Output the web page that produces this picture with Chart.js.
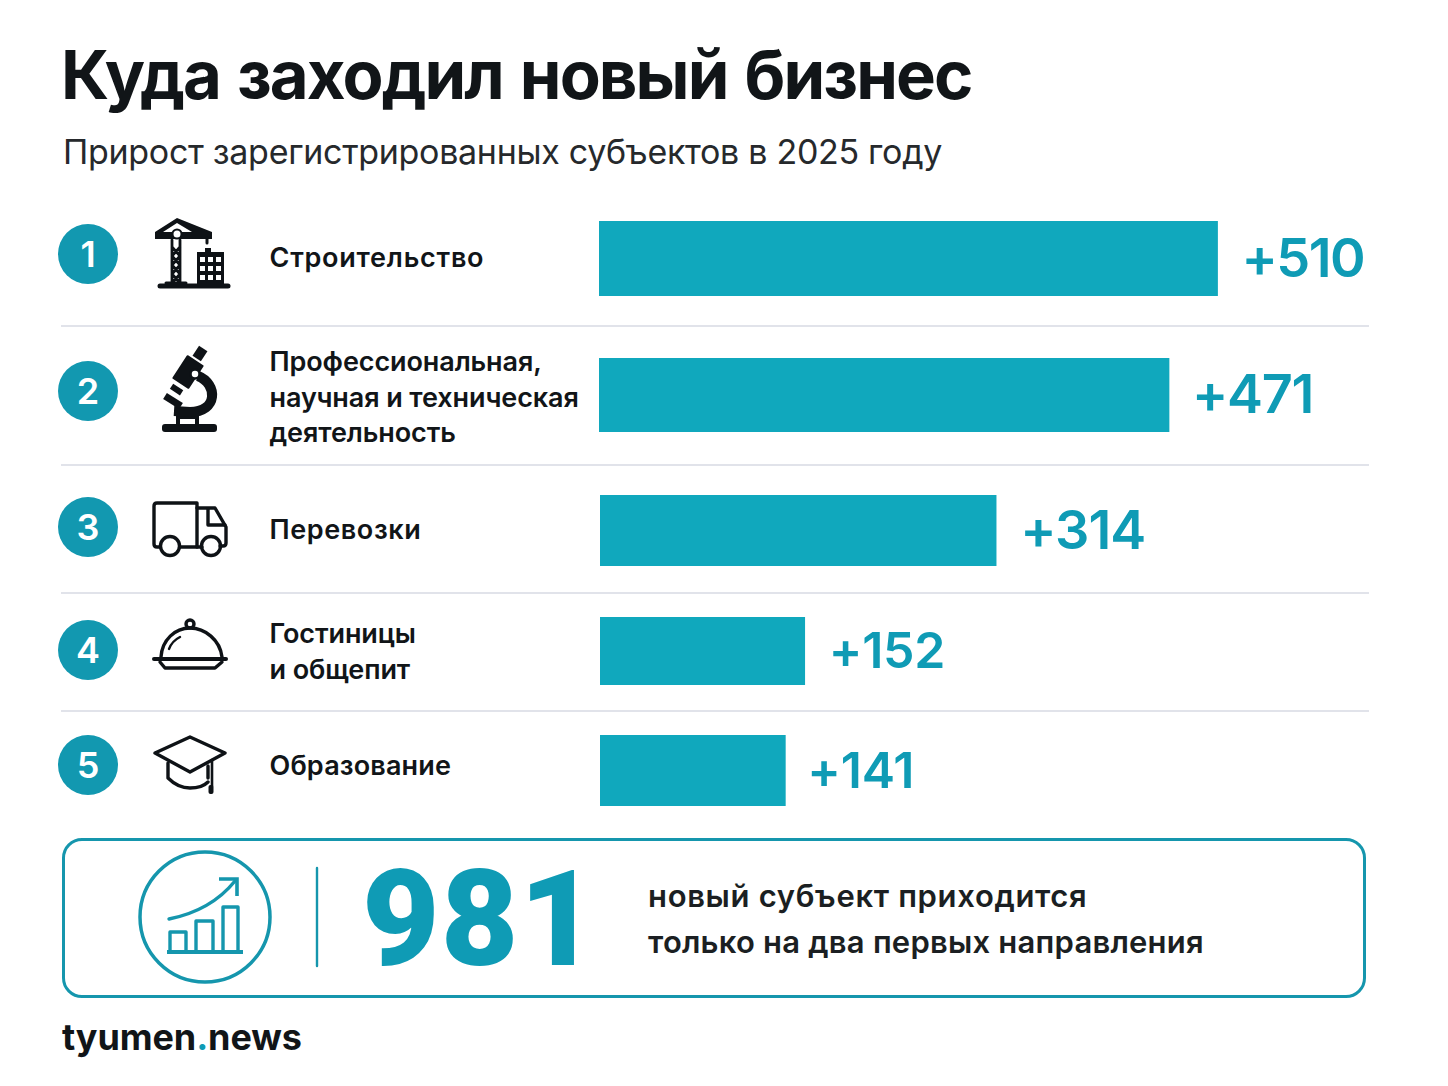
<!DOCTYPE html>
<html lang="ru">
<head>
<meta charset="utf-8">
<title>Куда заходил новый бизнес</title>
<script src="https://cdn.jsdelivr.net/npm/chart.js@4/dist/chart.umd.min.js"></script>
<style>
  html, body { margin: 0; padding: 0; background: #fff; }
  #page { position: relative; width: 1448px; height: 1086px; overflow: hidden; font-family: Inter, sans-serif; color: #111518; }
  #page > * { position: absolute; }
  #art { left: 0; top: 0; }
  h1 { left: 61px; top: 33px; margin: 0; font-size: 67px; line-height: 84px; font-weight: 700; letter-spacing: -1.9px; word-spacing: 3px; white-space: nowrap; }
  .sub { left: 63px; top: 130px; font-size: 34px; line-height: 44px; font-weight: 400; letter-spacing: -0.3px; color: #26292c; white-space: nowrap; }
  .num { left: 58px; width: 60px; height: 60px; line-height: 60px; border-radius: 50%; background: #1298b0; color: #fff; text-align: center; font-size: 36px; font-weight: 600; }
  .cat { left: 269.5px; font-size: 27px; line-height: 35.5px; font-weight: 600; white-space: nowrap; }
  .rule { left: 61px; width: 1308px; height: 2px; background: #e1e3ea; }
  .box { left: 62px; top: 838px; width: 1298px; height: 154px; border: 3px solid #1596ad; border-radius: 20px; }
  .big { left: 362px; top: 841px; font-family: Roboto, sans-serif; font-weight: 900; font-size: 134px; line-height: 158px; letter-spacing: 1px; color: #0f9bb5; }
  .note { left: 648px; top: 873px; font-size: 31px; line-height: 46px; font-weight: 600; color: #1b1f22; white-space: nowrap; }
  .foot { left: 62px; top: 1014px; font-size: 36px; line-height: 46px; font-weight: 700; letter-spacing: -0.1px; white-space: nowrap; }
  .foot span { color: #0f9bb5; }
  canvas { display: block; }
</style>
</head>
<body>
<div id="page">
  <svg id="art" width="1448" height="1086" viewBox="0 0 1448 1086" fill="none" stroke="#0e1216" stroke-width="3.4" stroke-linejoin="round" stroke-linecap="round">
    <!-- crane and building -->
    <g>
      <path d="M177 218 L155 232 V239 H212 V232 Z M177 223 L163 232 H192 Z" fill="#0e1216" fill-rule="evenodd" stroke="none"/>
      <circle cx="177" cy="234" r="4.5" fill="#fff" stroke="#0e1216" stroke-width="2"/>
      <path d="M207 238 V243" stroke-width="3"/>
      <path d="M172 240 V283 M180 240 V283 M172 247 L180 256 L172 265 L180 274 L172 283 M180 247 L172 256 L180 265 L172 274 L180 283" stroke-width="2.8"/>
      <path d="M160 286 H228" stroke-width="5"/>
      <path d="M166 283 H186" stroke-width="3"/>
      <path d="M197 252 H205 V248 H211 V252 H224 V285 H197 Z M200 257 H205 V262 H200 Z M208 257 H213 V262 H208 Z M216 257 H221 V262 H216 Z M200 266 H205 V271 H200 Z M208 266 H213 V271 H208 Z M216 266 H221 V271 H216 Z M200 275 H205 V280 H200 Z M208 275 H213 V280 H208 Z M216 275 H221 V280 H216 Z" fill="#0e1216" fill-rule="evenodd" stroke="none"/>
    </g>
    <!-- microscope -->
    <g>
      <rect x="162" y="424" width="55" height="8" rx="3" fill="#0e1216" stroke="none"/>
      <path d="M178 424 V412 H197 V424 M181 417 H194" stroke-width="4"/>
      <path d="M198 376 C218 384 218 412 190 412 L174 411" stroke-width="10" stroke-linecap="butt"/>
      <g transform="rotate(33 188 372)" fill="#0e1216" stroke="none">
        <rect x="178" y="358" width="20" height="28" rx="1"/>
        <rect x="183" y="344" width="10" height="12"/>
        <rect x="182" y="390" width="12" height="6"/>
      </g>
      <circle cx="195" cy="374" r="4.5" fill="#fff" stroke="#0e1216" stroke-width="2.5"/>
      <path d="M165 396 L181 406" stroke-width="7" stroke-linecap="butt"/>
    </g>
    <!-- truck -->
    <g>
      <path d="M160 547 H157 Q154 547 154 544 V506 Q154 503 157 503 H197 V547 H180"/>
      <path d="M197 508 H215 L226 527 V543 Q226 546 223 546 H220 M197 547 H202"/>
      <path d="M208 509 V525 H225"/>
      <circle cx="170" cy="546" r="9.5"/>
      <circle cx="211" cy="546" r="9.5"/>
    </g>
    <!-- cloche -->
    <g>
      <circle cx="190" cy="624" r="4" />
      <path d="M161 657 C162 640 175 628 190 628 C205 628 220 640 222 657"/>
      <path d="M154 659 H226" stroke-width="4"/>
      <path d="M160 662 L165 668 H215 L222 662"/>
      <path d="M169 649 Q172 641 180 637" stroke-width="2.4"/>
    </g>
    <!-- graduation cap -->
    <g>
      <path d="M190 737 L225 753 L190 772 L155 753 Z"/>
      <path d="M168 763 V778 Q178 788 190 788 Q202 788 208 782 M208 766 V778"/>
      <path d="M212 760 V786" stroke-width="2.6"/>
      <rect x="208.5" y="785" width="5" height="9" rx="2" fill="#0e1216" stroke="none"/>
    </g>
    <!-- growth icon in the summary box -->
    <g stroke="#1596ad">
      <circle cx="205" cy="917" r="65" stroke-width="3.5"/>
      <path d="M317 868 V966" stroke-width="2.4"/>
      <path d="M167 952 H243" stroke-width="4" stroke-linecap="butt"/>
      <path d="M170 952 V932 H186 V952 Z M196 952 V921 H213 V952 Z M223 952 V907 H238 V952 Z" stroke-width="3.4" stroke-linecap="butt"/>
      <path d="M169 919 C194 914 218 902 235 881" stroke-width="3.4"/>
      <path d="M219 879 H237 V896" stroke-width="3.6" stroke-linecap="butt" stroke-linejoin="miter"/>
    </g>
  </svg>

  <h1>Куда заходил новый бизнес</h1>
  <div class="sub">Прирост зарегистрированных субъектов в 2025 году</div>
  <div class="box"></div>
  <div class="big">981</div>
  <div class="note"><span style="letter-spacing:.66px">новый субъект приходится</span><br><span style="letter-spacing:.22px">только на два первых направления</span></div>
  <div class="foot">tyumen<span>.</span>news</div>
</div>

<script>
// what the picture shows
const categories = [
  ['Строительство'],
  ['Профессиональная,', 'научная и техническая', 'деятельность'],
  ['Перевозки'],
  ['Гостиницы', 'и общепит'],
  ['Образование']
];
const valueLabels = ['+510', '+471', '+314', '+152', '+141'];
// bar lengths as drawn in the picture, in the units of the +510 bar.
// The lower bars are drawn longer there than their printed numbers.
const barLengths = [510, 470, 327, 169, 153];
const ranks = ['1', '2', '3', '4', '5'];

// page layout of the rows
const BAR_COLOR = '#10a8bd';
const LABEL_COLOR = '#0f9bb5';
const AXIS_MAX = 700;
const barLefts = [599, 599, 600, 600, 600];
const barTops = [221, 358, 495, 617, 735];
const barHeights = [75, 74, 71, 68, 71];
const labelSizes = [54, 54, 54, 50, 50];
const labelSpacings = [-1.6, -1.3, -1, -0.2, -0.2];
const labelGaps = [24, 23, 24, 24, 22];
const catSpacings = [0.75, -0.1, 0.6, -0.1, 0.15];
const rankTops = [224, 361, 497, 620, 735];
const catTops = [240, 344, 512, 616, 748];
const ruleTops = [325, 464, 592, 710];

const page = document.getElementById('page');

function addDiv(className, top, html) {
  const div = document.createElement('div');
  div.className = className;
  div.style.top = top + 'px';
  div.innerHTML = html;
  page.appendChild(div);
  return div;
}

// "+510" right after the end of the bar
const valueLabelPlugin = {
  id: 'valueLabel',
  afterDatasetsDraw(chart, args, opts) {
    const bar = chart.getDatasetMeta(0).data[0];
    const ctx = chart.ctx;
    ctx.save();
    ctx.font = '600 ' + opts.size + 'px Inter, sans-serif';
    ctx.letterSpacing = opts.spacing + 'px';
    ctx.fillStyle = LABEL_COLOR;
    ctx.textAlign = 'left';
    ctx.textBaseline = 'middle';
    ctx.fillText(opts.text, bar.x + opts.gap, bar.y + 2);
    ctx.restore();
  }
};

ruleTops.forEach(top => addDiv('rule', top, ''));

categories.forEach((lines, i) => {
  addDiv('num', rankTops[i], ranks[i]);
  addDiv('cat', catTops[i], lines.join('<br>')).style.letterSpacing = catSpacings[i] + 'px';

  const canvas = document.createElement('canvas');
  canvas.width = 1448 - barLefts[i];
  canvas.height = barHeights[i];
  canvas.style.left = barLefts[i] + 'px';
  canvas.style.top = barTops[i] + 'px';
  page.appendChild(canvas);

  new Chart(canvas.getContext('2d'), {
    type: 'bar',
    data: {
      labels: [lines.join(' ')],
      datasets: [{
        data: [barLengths[i]],
        backgroundColor: BAR_COLOR,
        borderWidth: 0,
        barPercentage: 1,
        categoryPercentage: 1
      }]
    },
    options: {
      indexAxis: 'y',
      responsive: false,
      animation: false,
      layout: { padding: 0 },
      scales: {
        x: { display: false, min: 0, max: AXIS_MAX },
        y: { display: false }
      },
      plugins: {
        legend: { display: false },
        tooltip: { enabled: false },
        valueLabel: { text: valueLabels[i], size: labelSizes[i], spacing: labelSpacings[i], gap: labelGaps[i] }
      }
    },
    plugins: [valueLabelPlugin]
  });
});
</script>
</body>
</html>
